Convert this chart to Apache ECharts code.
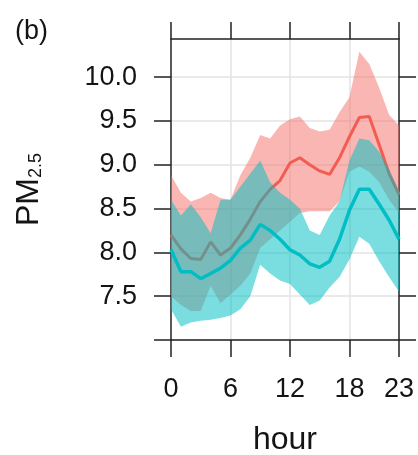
<!DOCTYPE html>
<html>
<head>
<meta charset="utf-8">
<script src="https://cdn.jsdelivr.net/npm/echarts@6/dist/echarts.min.js"></script>
<style>
html,body{margin:0;padding:0;background:#fff;}
#c{width:418px;height:455px;}
</style>
</head>
<body>
<div id="c"></div>
<script>
// ---- data ----
const hours = [0,1,2,3,4,5,6,7,8,9,10,11,12,13,14,15,16,17,18,19,20,21,22,23];

const redMean = [8.20,8.04,7.93,7.92,8.12,7.97,8.05,8.20,8.38,8.58,8.72,8.82,9.02,9.08,9.00,8.93,8.89,9.08,9.32,9.54,9.55,9.23,8.90,8.66];
const redLow  = [7.50,7.40,7.33,7.33,7.62,7.42,7.52,7.62,7.76,8.05,8.15,8.25,8.35,8.45,8.47,8.47,8.47,8.58,8.92,8.98,8.92,8.80,8.60,8.45];
const redHigh = [8.88,8.68,8.58,8.62,8.68,8.62,8.60,8.88,9.08,9.34,9.30,9.45,9.52,9.55,9.42,9.38,9.40,9.60,9.77,10.29,10.15,9.88,9.57,9.45];

const tealMean = [8.03,7.78,7.78,7.70,7.76,7.82,7.91,8.05,8.14,8.32,8.25,8.15,8.03,7.97,7.87,7.83,7.90,8.15,8.48,8.72,8.72,8.55,8.37,8.15];
const tealLow  = [7.35,7.15,7.20,7.22,7.23,7.25,7.28,7.35,7.50,7.86,7.76,7.68,7.64,7.52,7.40,7.45,7.60,7.72,7.92,8.18,8.10,7.90,7.72,7.55];
const tealHigh = [8.60,8.42,8.55,8.40,8.22,8.60,8.60,8.75,8.90,9.05,8.80,8.68,8.60,8.50,8.25,8.20,8.42,8.58,9.05,9.30,9.28,9.15,8.95,8.70];

const yTicks  = [7.0,7.5,8.0,8.5,9.0,9.5,10.0];
const yLabels = [7.5,8.0,8.5,9.0,9.5,10.0];
const xTicks  = [0,6,12,18,23];

const titleText = '(b)';
const xName = 'hour';

// ---- helpers ----
const diffs = (hi, lo) => hi.map((v, i) => +(v - lo[i]).toFixed(3));
const isXTick = (idx) => xTicks.indexOf(hours[idx]) >= 0;
const isXGrid = (idx) => isXTick(idx) && idx !== 0 && idx !== hours.length - 1;

const RED = '#F25C52', TEAL = '#00BEC3';
const RED_BAND = 'rgba(246,110,102,0.5)', TEAL_BAND = 'rgba(0,191,196,0.52)';
const INK = '#141414', FRAME = '#222', GRID = '#e3e3e3';
const FONT = 'Liberation Sans, Arial, sans-serif';

const chart = echarts.init(document.getElementById('c'), null, {renderer: 'canvas'});

const xCommon = {
  type: 'category', data: hours.map(String), boundaryGap: false,
  axisLine: {show: true, onZero: false, lineStyle: {color: FRAME, width: 1.5}},
  axisTick: {show: true, inside: false, length: 17, lineStyle: {color: FRAME, width: 1.5},
             interval: (idx) => isXTick(idx)},
};
const yCommon = {
  type: 'value', min: 7, max: 10.436, interval: 0.5,
  axisLine: {show: true, onZero: false, lineStyle: {color: FRAME, width: 1.5}},
  axisTick: {show: true, inside: false, length: 17, lineStyle: {color: FRAME, width: 1.5}, customValues: yTicks},
};

chart.setOption({
  animation: false,
  backgroundColor: '#fff',
  title: {
    text: titleText, left: 10, top: 13,
    textStyle: {fontSize: 27, fontWeight: 'normal', color: INK, fontFamily: FONT}
  },
  grid: {left: 171, right: 19, top: 39, bottom: 115, containLabel: false, outerBoundsMode: 'none'},
  xAxis: [
    Object.assign({}, xCommon, {
      position: 'bottom',
      name: xName, nameLocation: 'middle', nameGap: 84,
      nameTextStyle: {fontSize: 32, color: INK, fontFamily: FONT},
      axisLabel: {show: true, fontSize: 27, color: INK, fontFamily: FONT, margin: 36,
                  interval: (idx) => isXTick(idx)},
      splitLine: {show: true, interval: (idx) => isXGrid(idx), lineStyle: {color: GRID, width: 1.5}}
    }),
    Object.assign({}, xCommon, {
      position: 'top',
      axisLabel: {show: false},
      splitLine: {show: false}
    })
  ],
  yAxis: [
    Object.assign({}, yCommon, {
      position: 'left',
      name: 'PM{sub|2.5}', nameLocation: 'middle', nameGap: 126, nameRotate: 90,
      nameTextStyle: {
        fontSize: 32, color: INK, fontFamily: FONT,
        rich: {sub: {fontSize: 18, color: INK, fontFamily: FONT, verticalAlign: 'bottom'}}
      },
      axisLabel: {
        show: true, fontSize: 27, color: INK, fontFamily: FONT, margin: 34,
        customValues: yLabels,
        formatter: (v) => (v < 7.25 || v > 10.2) ? '' : Number(v).toFixed(1)
      },
      splitLine: {show: true, lineStyle: {color: GRID, width: 1.5}}
    }),
    Object.assign({}, yCommon, {
      position: 'right',
      axisLabel: {show: false},
      splitLine: {show: false}
    })
  ],
  series: [
    {type: 'line', data: redLow, stack: 'red', symbol: 'none',
     lineStyle: {width: 0, opacity: 0}, silent: true, z: 2},
    {type: 'line', data: diffs(redHigh, redLow), stack: 'red', symbol: 'none',
     lineStyle: {width: 0, opacity: 0}, areaStyle: {color: RED_BAND, opacity: 1}, silent: true, z: 2},
    {type: 'line', data: redMean, symbol: 'none',
     lineStyle: {width: 3, color: RED}, z: 3},
    {type: 'line', data: tealLow, stack: 'teal', symbol: 'none',
     lineStyle: {width: 0, opacity: 0}, silent: true, z: 4},
    {type: 'line', data: diffs(tealHigh, tealLow), stack: 'teal', symbol: 'none',
     lineStyle: {width: 0, opacity: 0}, areaStyle: {color: TEAL_BAND, opacity: 1}, silent: true, z: 4},
    {type: 'line', data: tealMean, symbol: 'none',
     lineStyle: {width: 3.5, color: TEAL}, z: 5}
  ]
});
</script>
</body>
</html>
